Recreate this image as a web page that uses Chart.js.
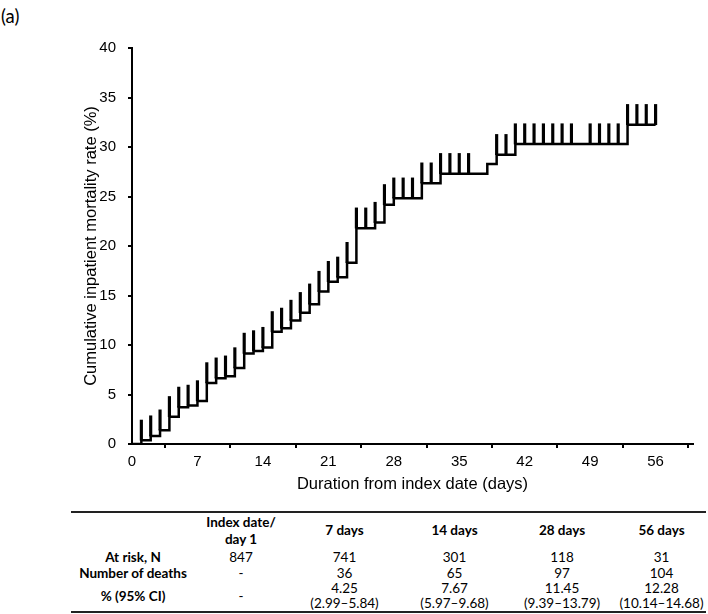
<!DOCTYPE html>
<html>
<head>
<meta charset="utf-8">
<script src="https://cdn.jsdelivr.net/npm/chart.js@4"></script>
<style>
  body { margin: 0; background: #fff; width: 708px; height: 614px; position: relative; overflow: hidden; }
  #panel { position: absolute; left: 1px; top: 5px; font: 18.5px Lato, sans-serif; color: #000; }
  #chart { position: absolute; left: 0; top: 0; }
  table { position: absolute; left: 71px; top: 511px; width: 635px; border-collapse: collapse; table-layout: fixed;
          font: 13.5px/15px Lato, sans-serif; color: #000; border-top: 2px solid #222; border-bottom: 2px solid #222; }
  td, th { padding: 0; text-align: center; vertical-align: middle; }
  th { line-height: 17px; }
  th, td.lab { font-weight: bold; }
</style>
</head>
<body>
<div id="panel">(a)</div>
<canvas id="chart" width="708" height="500"></canvas>
<table id="tbl"></table>
<script>
// cumulative inpatient mortality (%), one value per day
const days = [0, 1, 2, 3, 4, 5, 6, 7, 8, 9, 10, 11, 12, 13, 14, 15, 16, 17, 18, 19, 20,
  21, 22, 23, 24, 25, 26, 27, 28, 29, 30, 31, 32, 33, 34, 35, 36, 37, 38, 39, 40,
  41, 42, 43, 44, 45, 46, 47, 48, 49, 50, 51, 52, 53, 54, 55, 56]
const rate = [0, 0.37, 0.8, 1.4, 2.75, 3.7, 3.9, 4.35, 6.17, 6.65, 6.85, 7.68, 9.15, 9.4, 9.74,
  11.33, 11.68, 12.48, 13.26, 14.12, 15.4, 16.4, 16.84, 18.32, 21.8, 21.8, 22.37, 24.16, 24.83,
  24.83, 24.83, 26.35, 26.35, 27.3, 27.3, 27.3, 27.3, 27.3, 28.28, 29.22, 29.22, 30.3, 30.3,
  30.3, 30.3, 30.3, 30.3, 30.3, 30.3, 30.3, 30.3, 30.3, 30.3, 32.25, 32.25, 32.25, 32.25]
// days carrying a censoring mark
const censorDays = [1, 2, 3, 4, 5, 6, 7, 8, 9, 10, 11, 12, 13, 14, 15, 16, 17, 18, 19, 20,
  21, 22, 23, 24, 25, 26, 27, 28, 29, 30, 31, 32, 33, 34, 35, 36,
  39, 40, 41, 42, 43, 44, 45, 46, 47, 49, 50, 51, 52, 53, 54, 55, 56]
const xTicks = [0, 7, 14, 21, 28, 35, 42, 49, 56]

// table under the plot
const tableCols = ['Index date/<br>day 1', '7 days', '14 days', '28 days', '56 days']
const atRisk = ['847', '741', '301', '118', '31']
const deaths = ['-', '36', '65', '97', '104']
const pct = ['-', '4.25', '7.67', '11.45', '12.28']
const ci = ['', '(2.99–5.84)', '(5.97–9.68)', '(9.39–13.79)', '(10.14–14.68)']

const TICK_LEN = 2.05  // height of the censor marks, in % units
const axisFont = { family: 'Liberation Sans', size: 15 }
const titleFont = { family: 'Liberation Sans', size: 16.5 }

const ctx = document.getElementById('chart').getContext('2d')
new Chart(ctx, {
  type: 'line',
  data: {
    datasets: [
      {
        data: days.map((d, i) => ({ x: d, y: rate[i] })),
        stepped: 'before',
        borderColor: '#000',
        borderWidth: 2.5,
        borderJoinStyle: 'miter',
        pointRadius: 0,
        fill: false
      },
      {
        type: 'bar',
        data: censorDays.map(d => {
          const v = rate[days.indexOf(d)]
          return { x: d, y: [v, v + TICK_LEN] }
        }),
        backgroundColor: '#000',
        borderWidth: 0,
        barThickness: 2.5,
        grouped: false
      }
    ]
  },
  options: {
    responsive: false,
    animation: false,
    layout: { padding: { left: 80, right: 15, top: 48, bottom: 0 } },
    plugins: { legend: { display: false }, tooltip: { enabled: false } },
    scales: {
      x: {
        type: 'linear',
        min: 0,
        max: 60,
        offset: false,
        afterBuildTicks: s => { s.ticks = xTicks.map(v => ({ value: v })) },
        afterFit: s => { s.height = 56 },
        grid: { drawOnChartArea: false, drawTicks: true, tickLength: 4, color: '#000', lineWidth: 2 },
        border: { display: true, color: '#000', width: 2 },
        ticks: { padding: 5, font: axisFont, color: '#000', maxRotation: 0, autoSkip: false },
        title: { display: true, text: 'Duration from index date (days)', font: titleFont, color: '#000',
          padding: { top: 0, bottom: 6 } }
      },
      y: {
        min: 0,
        max: 40,
        afterFit: s => { s.width = 52 },
        grid: { drawOnChartArea: false, drawTicks: true, tickLength: 4, color: '#000', lineWidth: 2 },
        border: { display: true, color: '#000', width: 2 },
        ticks: { stepSize: 5, padding: 12, font: axisFont, color: '#000' },
        title: { display: true, text: 'Cumulative inpatient mortality rate (%)', font: titleFont, color: '#000',
          padding: { top: 2, bottom: 0 } }
      }
    }
  }
})

// build the table
const widths = [124, 92, 115, 105, 110, 89]
let html = '<colgroup>' + widths.map(w => `<col style="width:${w}px">`).join('') + '</colgroup>'
html += '<tr style="height:36px"><th></th>' + tableCols.map(c => `<th>${c}</th>`).join('') + '</tr>'
html += '<tr style="height:18px"><td class="lab">At risk, N</td>' + atRisk.map(v => `<td>${v}</td>`).join('') + '</tr>'
html += '<tr style="height:15px"><td class="lab">Number of deaths</td>' + deaths.map(v => `<td>${v}</td>`).join('') + '</tr>'
html += '<tr style="height:30px"><td class="lab">% (95% CI)</td>' +
  pct.map((v, i) => `<td>${v}${ci[i] ? '<br>' + ci[i] : ''}</td>`).join('') + '</tr>'
document.getElementById('tbl').innerHTML = html
</script>
</body>
</html>
